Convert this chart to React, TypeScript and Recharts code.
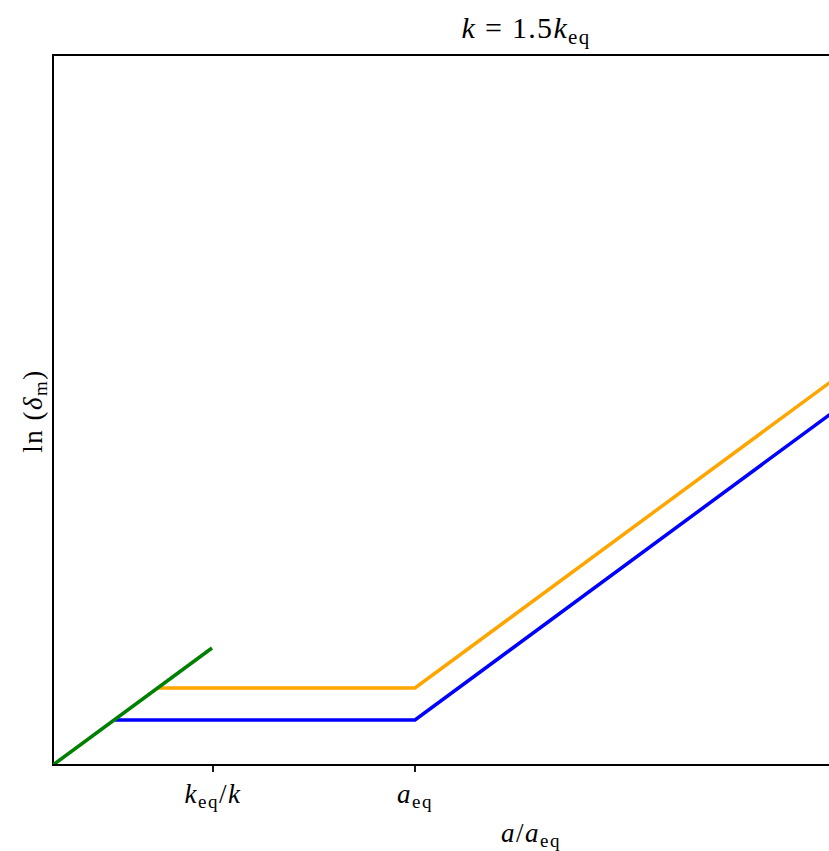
import { LineChart, Line, XAxis, YAxis, ReferenceArea } from 'recharts';

// x and y are in arbitrary log units
const xMax = 9.54;
const yMax = 7.1;

const blueX = [0.62, 3.62, 9.54];
const blueY = [0.45, 0.45, 4.81];
const orangeX = [1.04, 3.62, 9.54];
const orangeY = [0.77, 0.77, 5.13];
const greenX = [0, 1.59];
const greenY = [0, 1.17];

const tickValues = [1.6, 3.62];
const tickLabels = [
  { main: 'k', sub: 'eq', tail: '/', tailItalic: 'k' },
  { main: 'a', sub: 'eq', tail: '', tailItalic: '' }
];

const toPoints = (xs: number[], ys: number[]) => xs.map((x, i) => ({ x, y: ys[i] }));

const FONT = '"Liberation Serif", "DejaVu Serif", serif';

const Tick = (props: any) => {
  const { x, y, payload } = props;
  const idx = tickValues.indexOf(payload.value);
  const lab = tickLabels[idx];
  if (!lab) return null;
  return (
    <text x={x} y={y + 29} textAnchor="middle" fontFamily={FONT} fontSize={27} fill="#000" letterSpacing={1.5}>
      <tspan fontStyle="italic">{lab.main}</tspan>
      <tspan fontSize={19} dy={5}>{lab.sub}</tspan>
      {lab.tail && <tspan dy={-5}>{lab.tail}</tspan>}
      {lab.tailItalic && <tspan fontStyle="italic">{lab.tailItalic}</tspan>}
    </text>
  );
};

export default function App() {
  return (
    <div style={{ position: 'fixed', left: 0, top: 0, width: 829, height: 851, overflow: 'hidden', background: '#fff' }}>
      <LineChart width={1017} height={851} margin={{ top: 55, right: 10, left: 53, bottom: 46 }}>
        <XAxis
          type="number"
          dataKey="x"
          domain={[0, xMax]}
          allowDataOverflow
          ticks={tickValues}
          tick={<Tick />}
          tickSize={7}
          height={40}
          axisLine={{ stroke: '#000', strokeWidth: 2 }}
          tickLine={{ stroke: '#000', strokeWidth: 1.8 }}
        />
        <YAxis type="number" dataKey="y" domain={[0, yMax]} allowDataOverflow hide />
        <ReferenceArea x1={0} x2={xMax} y1={0} y2={yMax} fill="none" stroke="#000" strokeWidth={2} ifOverflow="visible" />
        <Line data={toPoints(blueX, blueY)} dataKey="y" type="linear" stroke="#0000ff" strokeWidth={3.5} dot={false} isAnimationActive={false} />
        <Line data={toPoints(orangeX, orangeY)} dataKey="y" type="linear" stroke="#ffa500" strokeWidth={3.5} dot={false} isAnimationActive={false} />
        <Line data={toPoints(greenX, greenY)} dataKey="y" type="linear" stroke="#008000" strokeWidth={3.5} dot={false} isAnimationActive={false} />
      </LineChart>
      <svg width={829} height={851} style={{ position: 'absolute', left: 0, top: 0, pointerEvents: 'none' }}>
        <text x={526} y={38} textAnchor="middle" fontFamily={FONT} fontSize={30} fill="#000" letterSpacing={1.3}>
          <tspan fontStyle="italic">k</tspan>
          <tspan>{' = 1.5'}</tspan>
          <tspan fontStyle="italic">k</tspan>
          <tspan fontSize={21} dy={6}>eq</tspan>
        </text>
        <text x={531} y={842} textAnchor="middle" fontFamily={FONT} fontSize={27} fill="#000" letterSpacing={1.5}>
          <tspan fontStyle="italic">a</tspan>
          <tspan>/</tspan>
          <tspan fontStyle="italic">a</tspan>
          <tspan fontSize={19} dy={5}>eq</tspan>
        </text>
        <text x={42} y={411} transform="rotate(-90 42 411)" textAnchor="middle" fontFamily={FONT} fontSize={27} fill="#000" letterSpacing={1.5}>
          <tspan>{'ln ('}</tspan>
          <tspan fontStyle="italic">δ</tspan>
          <tspan fontSize={19} dy={5}>m</tspan>
          <tspan dy={-5}>)</tspan>
        </text>
      </svg>
    </div>
  );
}
